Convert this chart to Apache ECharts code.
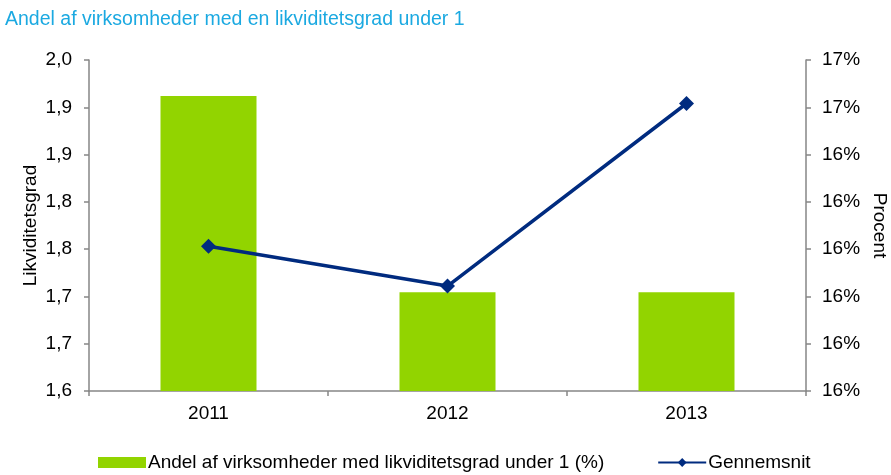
<!DOCTYPE html>
<html>
<head>
<meta charset="utf-8">
<script src="https://cdn.jsdelivr.net/npm/echarts@6/dist/echarts.min.js"></script>
<style>html,body{margin:0;padding:0;background:#fff}#c{width:891px;height:475px}</style>
</head>
<body>
<div id="c"></div>
<script>
const titleText = 'Andel af virksomheder med en likviditetsgrad under 1';
const categories = ['2011', '2012', '2013'];
const barName = 'Andel af virksomheder med likviditetsgrad under 1 (%)';
const barValues = [16.524, 16.109, 16.109];
const lineName = 'Gennemsnit';
const lineValues = [1.753, 1.711, 1.904];
const leftTickLabels = ['1,6', '1,7', '1,7', '1,8', '1,8', '1,9', '1,9', '2,0'];
const rightTickLabels = ['16%', '16%', '16%', '16%', '16%', '16%', '17%', '17%'];
const leftAxisName = 'Likviditetsgrad';
const rightAxisName = 'Procent';

const FONT = 'Liberation Sans, Arial, sans-serif';
const FS = 19;
const axisCol = '#868686';

const chart = echarts.init(document.getElementById('c'), null, {renderer: 'canvas'});
chart.setOption({
  animation: false,
  backgroundColor: '#fff',
  textStyle: {fontFamily: FONT},
  title: {
    text: titleText, left: 0, top: 5,
    textStyle: {color: '#1ba9e1', fontSize: 19.5, fontWeight: 'normal', fontFamily: FONT}
  },
  grid: {left: 89, right: 85, top: 60, bottom: 84, containLabel: false, outerBoundsMode: 'none'},
  legend: {
    left: 93, top: 448, itemWidth: 48, itemHeight: 11, itemGap: 53,
    textStyle: {fontSize: FS, color: '#000', fontFamily: FONT, padding: [0, 0, 0, -3]},
    data: [{name: barName, icon: 'rect'}, {name: lineName}]
  },
  xAxis: {
    type: 'category', data: categories, boundaryGap: true,
    axisLine: {lineStyle: {color: axisCol, width: 1.5}},
    axisTick: {show: true, length: 5, lineStyle: {color: axisCol, width: 1.5}},
    axisLabel: {color: '#000', fontSize: FS, margin: 13, fontFamily: FONT},
    splitLine: {show: false}
  },
  yAxis: [
    {
      type: 'value', position: 'left', min: 1.6, max: 1.95, interval: 0.05,
      name: leftAxisName, nameLocation: 'middle', nameGap: 49, nameRotate: 90,
      nameMoveOverlap: false,
      nameTextStyle: {color: '#000', fontSize: FS, fontFamily: FONT},
      axisLine: {show: true, lineStyle: {color: axisCol, width: 1.5}},
      axisTick: {show: true, length: 5, lineStyle: {color: axisCol, width: 1.5}},
      axisLabel: {color: '#000', fontSize: FS, margin: 17, fontFamily: FONT,
        formatter: (v, i) => leftTickLabels[i]},
      splitLine: {show: false}
    },
    {
      type: 'value', position: 'right', min: 15.9, max: 16.6, interval: 0.1,
      name: rightAxisName, nameLocation: 'middle', nameGap: 64, nameRotate: -90,
      nameMoveOverlap: false,
      nameTextStyle: {color: '#000', fontSize: FS, fontFamily: FONT},
      axisLine: {show: true, lineStyle: {color: axisCol, width: 1.5}},
      axisTick: {show: true, length: 5, lineStyle: {color: axisCol, width: 1.5}},
      axisLabel: {color: '#000', fontSize: FS, margin: 16, fontFamily: FONT,
        formatter: (v, i) => rightTickLabels[i]},
      splitLine: {show: false}
    }
  ],
  series: [
    {
      name: barName, type: 'bar', yAxisIndex: 1, data: barValues,
      barWidth: 96, itemStyle: {color: '#92d400'}, z: 1
    },
    {
      name: lineName, type: 'line', yAxisIndex: 0, data: lineValues,
      symbol: 'diamond', symbolSize: 15, z: 3,
      lineStyle: {color: '#002b7f', width: 3.5},
      itemStyle: {color: '#002b7f'}
    }
  ]
});
</script>
</body>
</html>
